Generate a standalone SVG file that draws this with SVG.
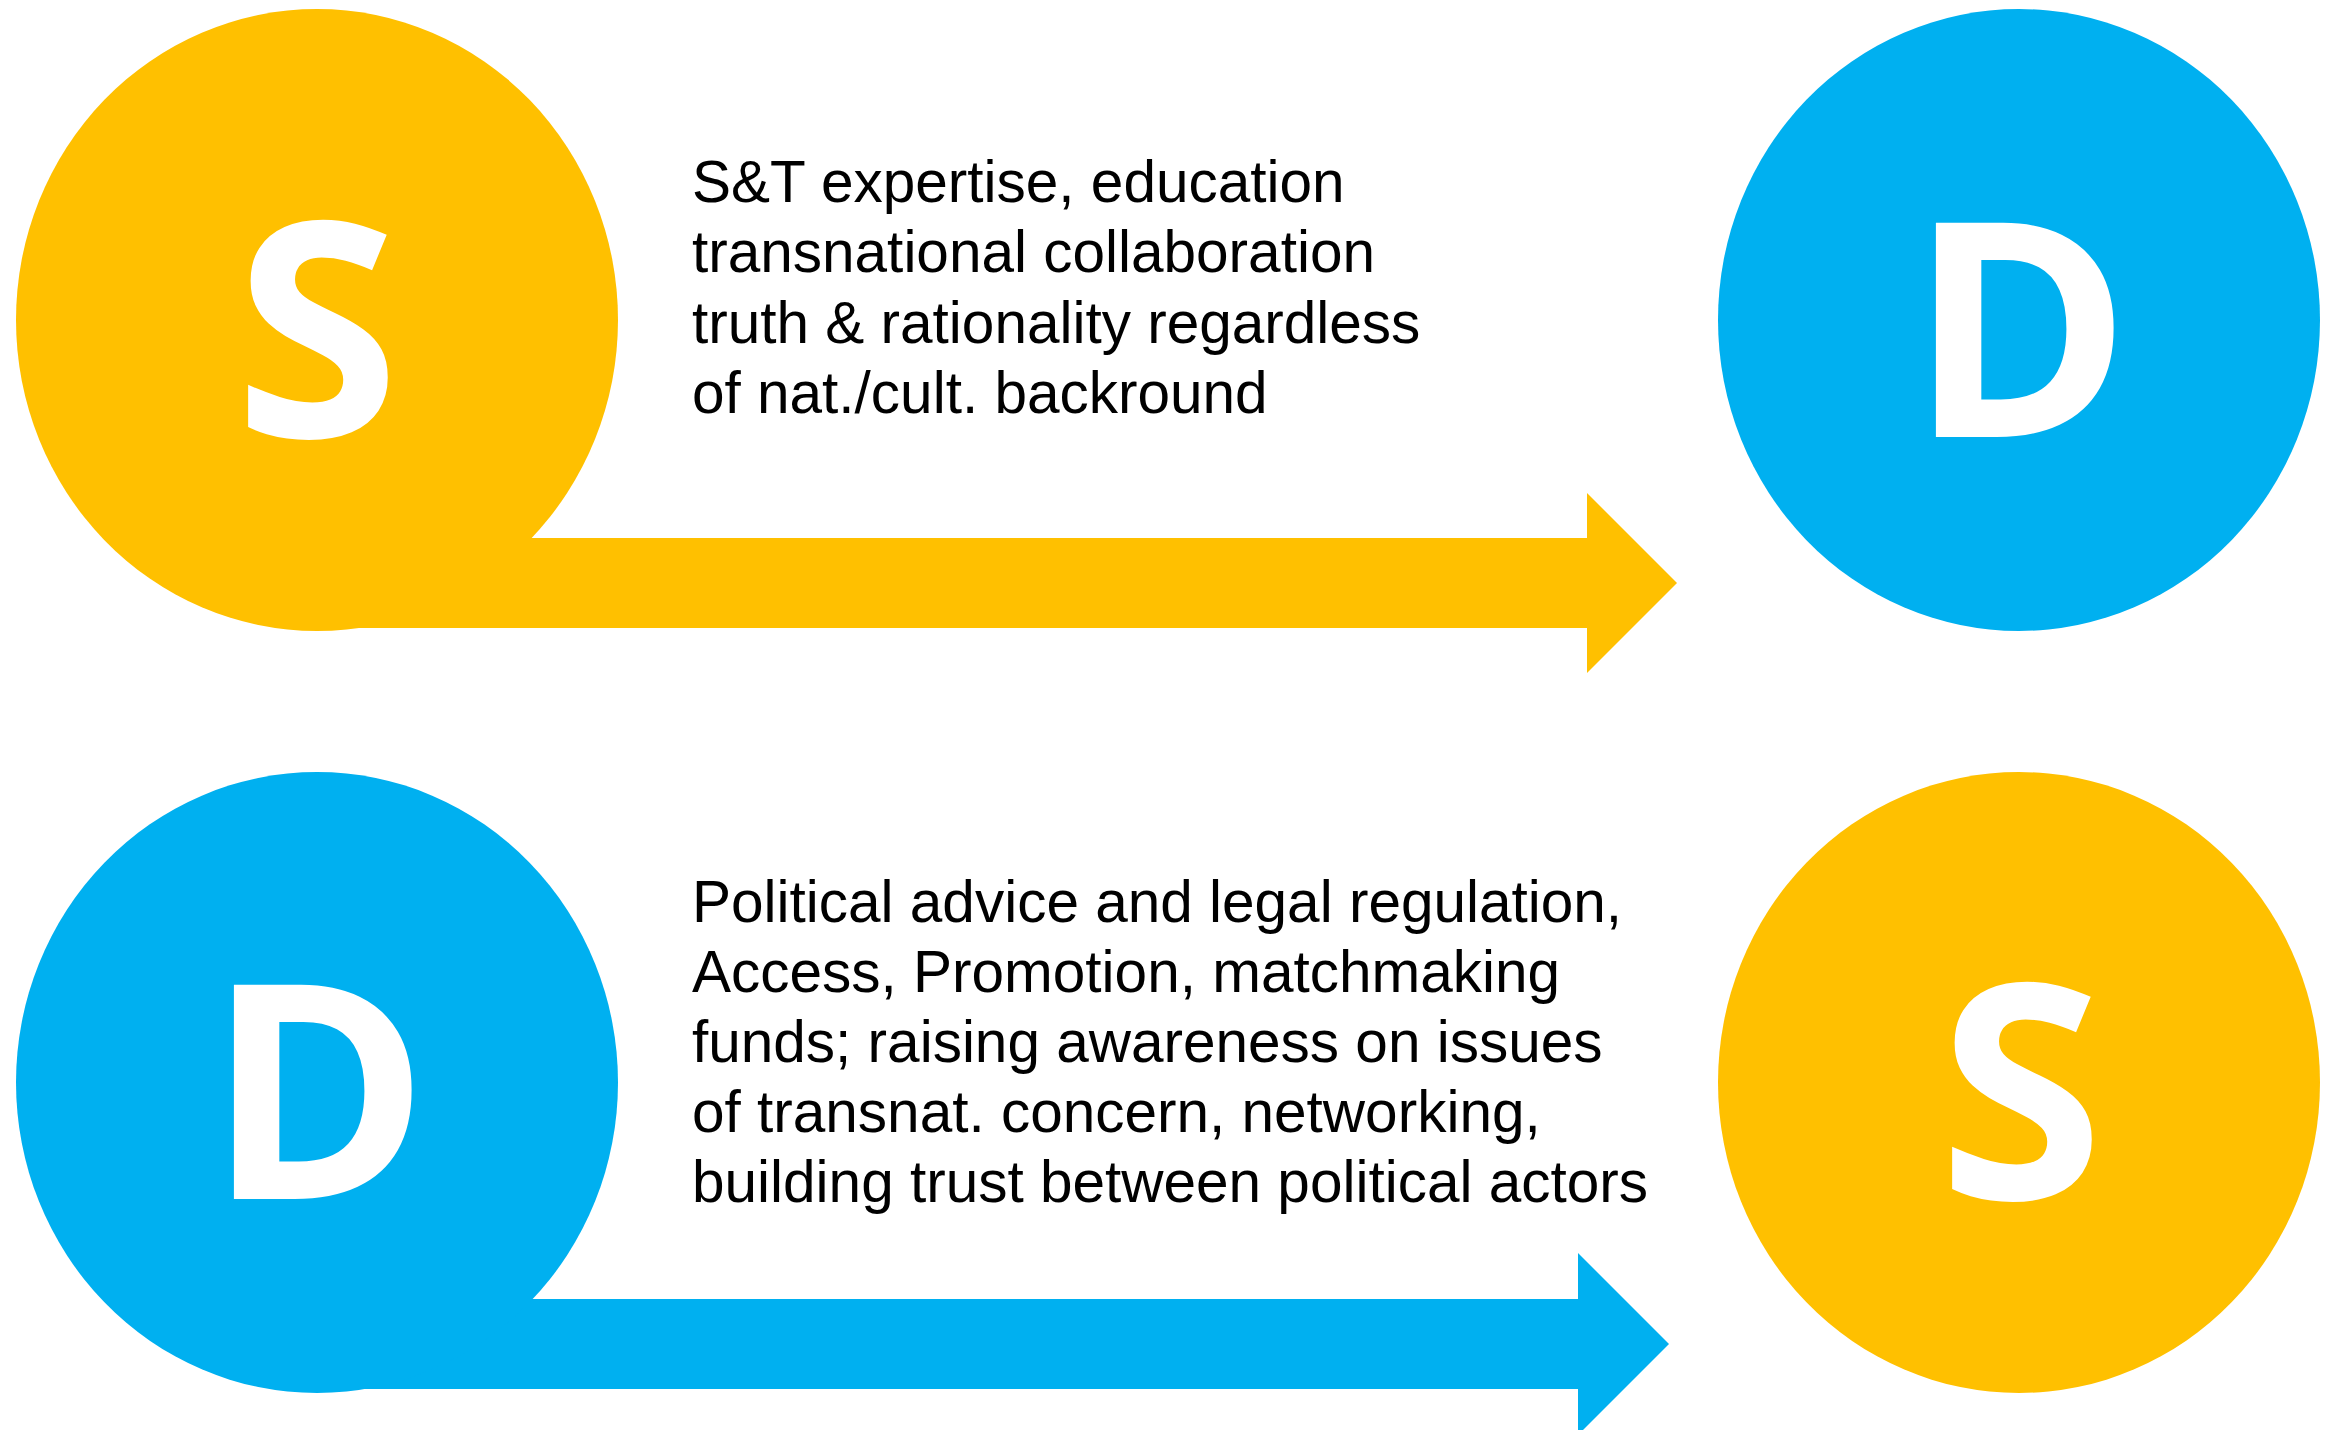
<svg xmlns="http://www.w3.org/2000/svg" width="2329" height="1430" viewBox="0 0 2329 1430">
<style>
.yel{fill:#FFC000}
.blu{fill:#00B0F0}
.let{font-family:"Open Sans","Noto Sans",sans-serif;font-weight:bold;font-size:300px;fill:#FFFFFF;text-anchor:middle}
.lbl{font-family:"Liberation Sans",Arial,sans-serif;font-size:58.5px;fill:#000000}
</style>
<rect width="2329" height="1430" fill="#FFFFFF"/>
<g id="connectors">
<path id="arrow-top" class="yel" d="M 317 538 H 1587 V 493 L 1677 583 L 1587 673 V 628 H 317 Z"/>
<path id="arrow-bottom" class="blu" d="M 317 1299 H 1578 V 1253 L 1669 1344 L 1578 1435 V 1389 H 317 Z"/>
</g>
<g id="node-s-top">
<ellipse class="yel" cx="317" cy="320" rx="301" ry="311"/>
<text class="let" x="317" y="437">S</text>
</g>
<g id="node-d-top">
<ellipse class="blu" cx="2019" cy="320" rx="301" ry="311"/>
<text class="let" x="2020" y="437">D</text>
</g>
<g id="node-d-bottom">
<ellipse class="blu" cx="317" cy="1082.5" rx="301" ry="310.5"/>
<text class="let" x="318" y="1199">D</text>
</g>
<g id="node-s-bottom">
<ellipse class="yel" cx="2019" cy="1082.5" rx="301" ry="310.5"/>
<text class="let" x="2021" y="1199">S</text>
</g>
<g id="label-top" class="lbl">
<text x="692" y="202">S&amp;T expertise, education</text>
<text x="692" y="272">transnational collaboration</text>
<text x="692" y="343">truth &amp; rationality regardless</text>
<text x="692" y="413">of nat./cult. backround</text>
</g>
<g id="label-bottom" class="lbl">
<text x="692" y="922">Political advice and legal regulation,</text>
<text x="692" y="992">Access, Promotion, matchmaking</text>
<text x="692" y="1062">funds; raising awareness on issues</text>
<text x="692" y="1132">of transnat. concern, networking,</text>
<text x="692" y="1202">building trust between political actors</text>
</g>
</svg>
